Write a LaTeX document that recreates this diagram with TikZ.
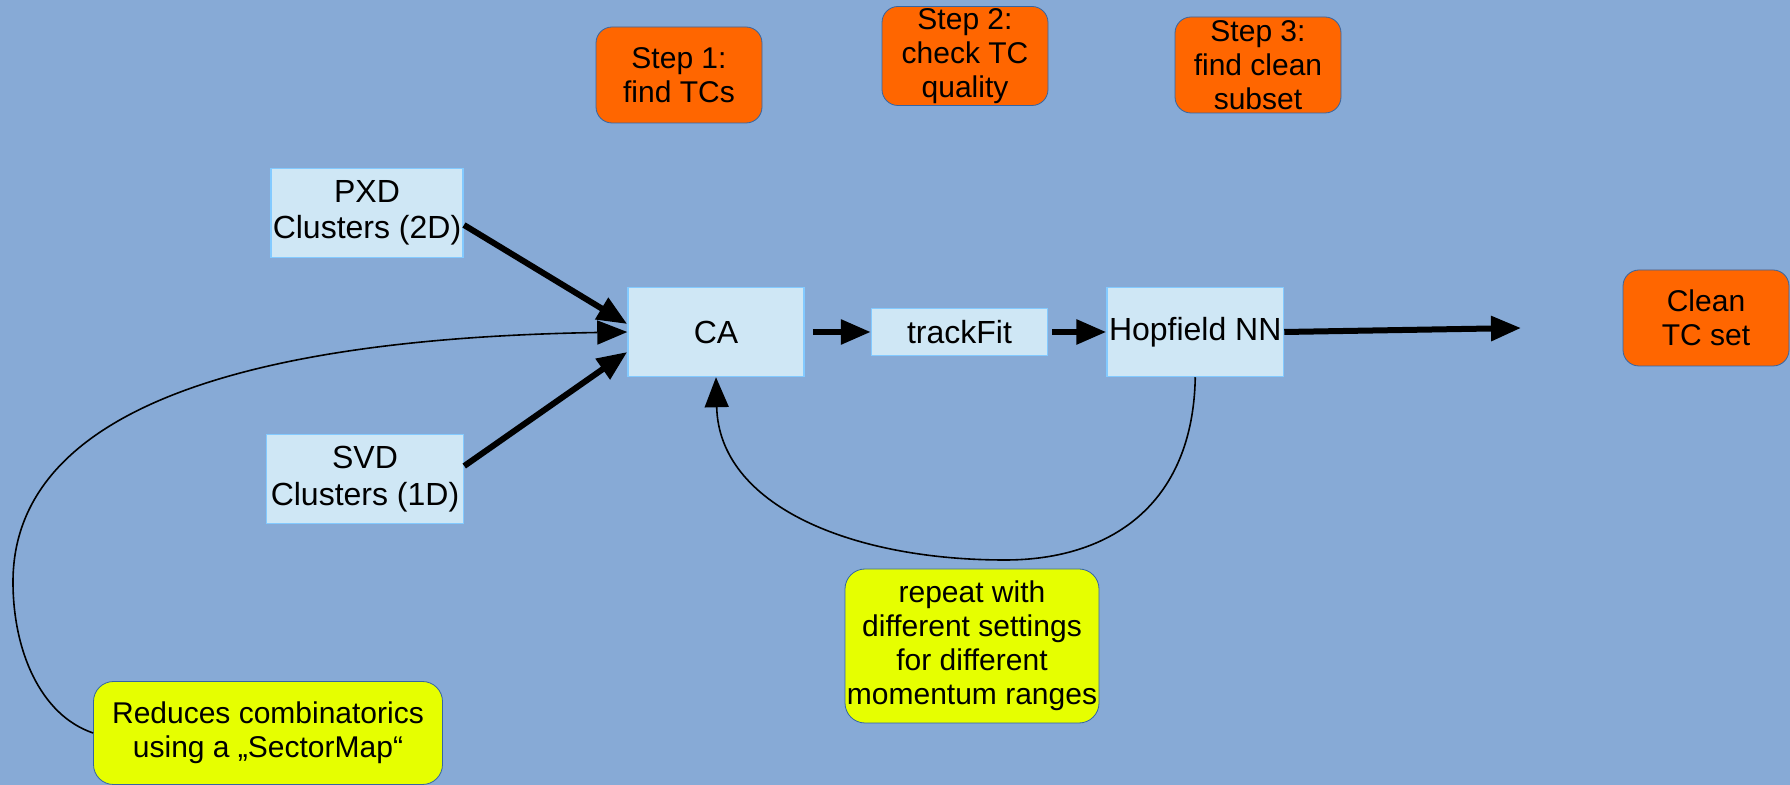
\documentclass[tikz,border=0pt]{standalone}
\usepackage{fontspec}
\setmainfont{Liberation Sans}
\usetikzlibrary{positioning, arrows.meta}

\definecolor{bgblue}{HTML}{87AAD6}
\definecolor{stepred}{HTML}{FF6600}
\definecolor{noteyellow}{HTML}{E6FF00}
\definecolor{procfill}{HTML}{CFE7F5}
\definecolor{procline}{HTML}{83CAFF}
\definecolor{frameblue}{HTML}{3465A4}

\begin{document}
\begin{tikzpicture}[
    x=0.5pt, y=-0.5pt,
    font=\fontsize{15}{17}\selectfont,
    stepbox/.style={rectangle, rounded corners=8pt, draw=frameblue, thin,
        fill=stepred, minimum width=83pt, minimum height=48pt,
        align=center, inner sep=0pt},
    notebox/.style={rectangle, rounded corners=10pt, draw=frameblue, thin,
        fill=noteyellow, align=center, inner sep=0pt},
    procbox/.style={rectangle, draw=procline, line width=0.75pt,
        fill=procfill, minimum width=88pt, minimum height=44.5pt,
        align=center, inner sep=1pt, font=\fontsize{16}{18.3}\selectfont},
    flow/.style={line width=3pt, -{Triangle[length=15pt, width=12pt]}},
    feedback/.style={line width=0.8pt, -{Triangle[length=15pt, width=12pt]}},
]

% ---- Background ----
\path[use as bounding box, fill=bgblue] (0,0) rectangle (1790,785);

% ---- Processing chain ----
\node[procbox] (ca) at (716,332) {CA};
\node[procbox, minimum height=23.5pt, right=33pt of ca] (fit) {trackFit};
\node[procbox, right=29pt of fit] (hop) {Hopfield NN};

% ---- Inputs ----
\node[procbox, minimum width=95.5pt] (pxd) at (367,213) {PXD\\Clusters (2D)};
\node[procbox, minimum width=98.5pt] (svd) at (365,479) {SVD\\Clusters (1D)};

% ---- Steps and result ----
\node[stepbox] (s1) at (679,75) {Step 1:\\find TCs};
\node[stepbox, minimum height=49.5pt] (s2) at (965,56) {Step 2:\\check TC\\quality};
\node[stepbox] (s3) at (1258,65) {Step 3:\\find clean\\subset};
\node[stepbox] (clean) at (1706,318) {Clean\\TC set};

% ---- Notes ----
\node[notebox, minimum width=127pt, minimum height=77pt] (rep) at (972,646)
    {repeat with\\different settings\\for different\\momentum ranges};
\node[notebox, minimum width=174.5pt, minimum height=51.5pt] (sector) at (268,733)
    {Reduces combinatorics\\using a „SectorMap“};

% ---- Arrows ----
\coordinate (out) at (1521,328);
\draw[flow] ([yshift=-6pt]pxd.east) -- ([yshift=4pt]ca.west);
\draw[flow] ([yshift=6.5pt]svd.east) -- ([yshift=-10pt]ca.west);
\draw[flow, shorten <=4pt] (ca.east) -- (fit.west);
\draw[flow, shorten <=2pt] (fit.east) -- (hop.west);
\draw[flow] (hop.east) -- (out);

% ---- Curved links ----
\draw[feedback] (sector.west) .. controls (40,715) and (13,650) .. (13,582)
    .. controls (13,450) and (150,340) .. (ca.west);
\draw[feedback] (hop.south) .. controls (1193,505) and (1110,560) .. (1005,560)
    .. controls (850,560) and (719,505) .. (ca.south);

\end{tikzpicture}
\end{document}
